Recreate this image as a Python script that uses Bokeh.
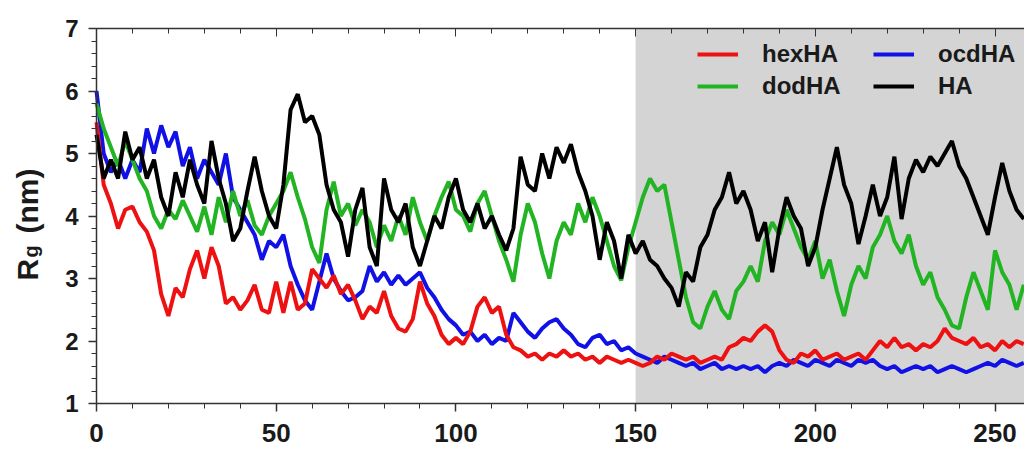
import math
from bokeh.plotting import figure
from bokeh.models import (LinearAxis, SingleIntervalTicker, BoxAnnotation, Legend,
                          LegendItem, Label, Range1d, CustomJSTickFormatter)
from bokeh.embed import file_html
from bokeh.resources import INLINE

step_ns = 2
hexHA = [5.5, 4.5, 4.2, 3.8, 4.1, 4.15, 3.9, 3.75, 3.45, 2.75,
         2.4, 2.85, 2.7, 3.15, 3.45, 3.0, 3.5, 3.2, 2.6, 2.7,
         2.5, 2.65, 2.9, 2.5, 2.45, 2.95, 2.45, 2.95, 2.5, 2.6,
         3.15, 3.0, 2.85, 3.05, 2.75, 2.9, 2.65, 2.35, 2.55, 2.45,
         2.8, 2.4, 2.2, 2.15, 2.35, 2.95, 2.6, 2.4, 2.1, 1.95,
         2.05, 1.95, 2.15, 2.55, 2.7, 2.45, 2.55, 2.1, 1.9, 1.85,
         1.75, 1.8, 1.7, 1.8, 1.75, 1.85, 1.75, 1.8, 1.7, 1.75,
         1.65, 1.75, 1.7, 1.65, 1.7, 1.65, 1.6, 1.65, 1.75, 1.7,
         1.8, 1.75, 1.7, 1.75, 1.65, 1.7, 1.75, 1.7, 1.9, 1.95,
         2.05, 2.0, 2.15, 2.25, 2.15, 1.85, 1.7, 1.65, 1.8, 1.75,
         1.85, 1.7, 1.75, 1.8, 1.7, 1.75, 1.8, 1.7, 1.85, 2.0,
         1.9, 2.05, 1.9, 1.95, 1.85, 1.95, 1.9, 2.0, 2.2, 2.05,
         2.0, 1.95, 2.05, 1.9, 1.95, 1.85, 2.0, 1.9, 2.0, 1.95]
ocdHA = [6.0, 5.0, 4.7, 4.9, 4.6, 4.9, 4.7, 5.4, 5.0, 5.45,
         5.1, 5.35, 4.8, 5.1, 4.6, 4.9, 4.7, 4.5, 5.0, 4.3,
         4.1, 3.9, 3.7, 3.3, 3.6, 3.5, 3.7, 3.2, 2.9, 2.65,
         2.5, 2.95, 3.4, 3.0, 2.8, 2.65, 2.7, 2.8, 3.2, 2.95,
         3.1, 2.9, 3.05, 2.9, 3.0, 3.1, 2.85, 2.7, 2.5, 2.35,
         2.25, 2.1, 2.15, 2.0, 2.1, 1.95, 2.05, 2.0, 2.45, 2.3,
         2.15, 2.05, 2.2, 2.3, 2.35, 2.2, 2.1, 1.95, 1.9, 2.05,
         2.1, 1.95, 2.0, 1.85, 1.9, 1.8, 1.75, 1.7, 1.65, 1.75,
         1.7, 1.65, 1.6, 1.65, 1.55, 1.6, 1.65, 1.55, 1.6, 1.55,
         1.6, 1.55, 1.6, 1.5, 1.6, 1.65, 1.6, 1.7, 1.65, 1.6,
         1.7, 1.65, 1.6, 1.7, 1.65, 1.6, 1.7, 1.65, 1.7, 1.6,
         1.55, 1.6, 1.5, 1.55, 1.6, 1.55, 1.6, 1.5, 1.55, 1.6,
         1.55, 1.5, 1.55, 1.6, 1.65, 1.6, 1.7, 1.65, 1.6, 1.65]
dodHA = [5.8, 5.4, 5.1, 4.8, 5.2, 4.9, 4.6, 4.4, 4.0, 3.8,
         4.1, 3.95, 4.25, 4.0, 3.75, 4.15, 3.7, 4.3, 3.9, 4.4,
         4.0, 4.25, 3.85, 3.7, 4.0, 4.2, 4.4, 4.7, 4.3, 3.95,
         3.5, 3.25, 4.1, 4.55, 4.0, 4.2, 3.85, 4.1, 3.9, 3.5,
         3.85, 3.6, 4.0, 3.7, 4.3, 3.9, 3.6, 4.0, 4.3, 4.55,
         4.1, 4.0, 3.75, 4.2, 4.4, 4.0, 3.6, 3.3, 2.95, 3.7,
         4.2, 3.9, 3.4, 3.0, 3.6, 3.9, 3.7, 4.2, 3.9, 4.3,
         4.0, 3.6, 3.2, 2.97, 3.5, 3.9, 4.3, 4.6, 4.4, 4.5,
         3.9, 3.3, 2.7, 2.3, 2.2, 2.55, 2.8, 2.5, 2.35, 2.8,
         2.95, 3.2, 2.95, 3.6, 3.9, 3.7, 4.1, 3.8, 3.5, 3.3,
         3.6, 3.0, 3.3, 2.8, 2.4, 2.9, 3.2, 3.0, 3.5, 3.7,
         4.0, 3.6, 3.4, 3.7, 3.2, 2.9, 3.1, 2.7, 2.5, 2.25,
         2.2, 2.7, 3.1, 2.8, 2.5, 3.45, 3.1, 2.9, 2.5, 2.9]
HA = [5.3, 4.6, 4.9, 4.6, 5.35, 4.9, 5.1, 4.6, 4.9, 4.3,
      4.0, 4.7, 4.3, 4.9, 4.5, 4.2, 5.2, 4.6, 4.2, 3.6,
      3.8, 4.4, 4.95, 4.4, 4.0, 3.8, 4.5, 5.7, 5.95, 5.5,
      5.6, 5.3, 4.5, 4.1, 3.9, 3.35, 4.1, 4.45, 3.5, 3.2,
      4.6, 4.1, 3.9, 4.2, 3.5, 3.2, 3.6, 4.0, 3.8, 4.3,
      4.6, 4.1, 3.9, 4.2, 3.8, 4.0, 3.7, 3.45, 3.8, 4.95,
      4.5, 4.4, 5.0, 4.6, 5.1, 4.85, 5.15, 4.7, 4.4, 4.0,
      3.3, 3.9, 3.6, 3.0, 3.7, 3.4, 3.6, 3.3, 3.2, 3.0,
      2.85, 2.55, 3.1, 2.95, 3.5, 3.7, 4.1, 4.3, 4.7, 4.2,
      4.4, 4.1, 3.6, 3.9, 3.1, 3.8, 4.3, 4.0, 3.8, 3.2,
      3.5, 4.1, 4.6, 5.1, 4.5, 4.2, 3.55, 4.0, 4.5, 4.0,
      4.3, 4.95, 3.95, 4.6, 4.9, 4.7, 4.95, 4.8, 5.0, 5.2,
      4.8, 4.6, 4.3, 4.0, 3.7, 4.3, 4.85, 4.4, 4.1, 3.95]
series_names = ["hexHA", "ocdHA", "dodHA", "HA"]
shade_start = 150
Y_MIN, Y_MAX = 1, 7

colors = {"hexHA": "#ee1111", "ocdHA": "#1111e6", "dodHA": "#22b422", "HA": "#000000"}
values = {"hexHA": hexHA, "ocdHA": ocdHA, "dodHA": dodHA, "HA": HA}

FONT = "Liberation Sans"
X_START, X_END = -26.71, 258.2
Y_START, Y_END = 0.248, 7.448

p = figure(width=1024, height=450, output_backend="svg", toolbar_location=None,
           x_range=Range1d(X_START, X_END), y_range=Range1d(Y_START, Y_END),
           min_border_left=0, min_border_right=0, min_border_top=0, min_border_bottom=0)
p.outline_line_color = None
p.grid.visible = False
p.background_fill_color = "white"
p.border_fill_color = "white"

p.add_layout(BoxAnnotation(left=shade_start, bottom=Y_MIN, top=Y_MAX, fill_color="#d4d4d4",
                           fill_alpha=1.0, line_color=None, level="underlay"))

renderers = {}
for name in ["ocdHA", "hexHA", "dodHA", "HA"]:
    vals = values[name]
    t = list(range(0, step_ns * len(vals), step_ns))
    renderers[name] = p.line(t, vals, line_color=colors[name], line_width=4)

# axes
xa = p.xaxis[0]
xa.ticker = SingleIntervalTicker(interval=50, num_minor_ticks=5)
xa.bounds = (0, X_END)
xa.fixed_location = Y_MIN
ya = p.yaxis[0]
ya.ticker = SingleIntervalTicker(interval=1, num_minor_ticks=5)
ya.bounds = (Y_MIN, Y_MAX)
ya.fixed_location = 0
for ax, fs in ((xa, "26px"), (ya, "24px")):
    ax.axis_line_color = "#333333"
    ax.axis_line_width = 1.5
    ax.major_tick_line_color = "#333333"
    ax.minor_tick_line_color = "#333333"
    ax.major_tick_line_width = 1.5
    ax.minor_tick_line_width = 1
    ax.major_tick_in = 0
    ax.major_tick_out = 8
    ax.minor_tick_in = 0
    ax.minor_tick_out = 5
    ax.major_label_text_font = FONT
    ax.major_label_text_font_style = "bold"
    ax.major_label_text_font_size = fs
    ax.major_label_text_color = "#1a1a1a"
xa.major_label_standoff = 12
ya.major_label_standoff = 10

top = LinearAxis(ticker=SingleIntervalTicker(interval=50, num_minor_ticks=5),
                 bounds=(0, X_END), fixed_location=Y_MAX,
                 formatter=CustomJSTickFormatter(code="return ''"),
                 major_tick_in=8, major_tick_out=0, minor_tick_in=5, minor_tick_out=0,
                 major_label_text_font_size="8px", major_label_standoff=0,
                 axis_line_color="#333333", axis_line_width=1.5,
                 major_tick_line_color="#333333", minor_tick_line_color="#333333")
p.add_layout(top, "above")

# y axis label  R_g (nm)
p.add_layout(Label(x=-19.2, y=2.968, text="R", angle=math.pi / 2, text_align="left",
                   text_baseline="alphabetic", text_font=FONT, text_font_style="bold",
                   text_font_size="30px", text_color="#1a1a1a"))
p.add_layout(Label(x=-18.1, y=3.336, text="g", angle=math.pi / 2, text_align="left",
                   text_baseline="alphabetic", text_font=FONT, text_font_style="bold",
                   text_font_size="20px", text_color="#1a1a1a"))
p.add_layout(Label(x=-19.2, y=3.72, text="(nm)", angle=math.pi / 2, text_align="left",
                   text_baseline="alphabetic", text_font=FONT, text_font_style="bold",
                   text_font_size="30px", text_color="#1a1a1a"))

legend_order = ["hexHA", "dodHA", "ocdHA", "HA"]   # filled column by column
legend = Legend(items=[LegendItem(label=n, renderers=[renderers[n]]) for n in legend_order],
                ncols=2, location=(697, 350), padding=0, margin=0, spacing=4,
                glyph_width=41, glyph_height=20, label_standoff=24, label_width=107,
                label_height=28, label_text_font=FONT, label_text_font_style="bold",
                label_text_font_size="24px", label_text_color="#1a1a1a",
                border_line_color=None, background_fill_alpha=0.0)
p.add_layout(legend, "center")

open("out.html", "w").write(file_html(p, INLINE))
